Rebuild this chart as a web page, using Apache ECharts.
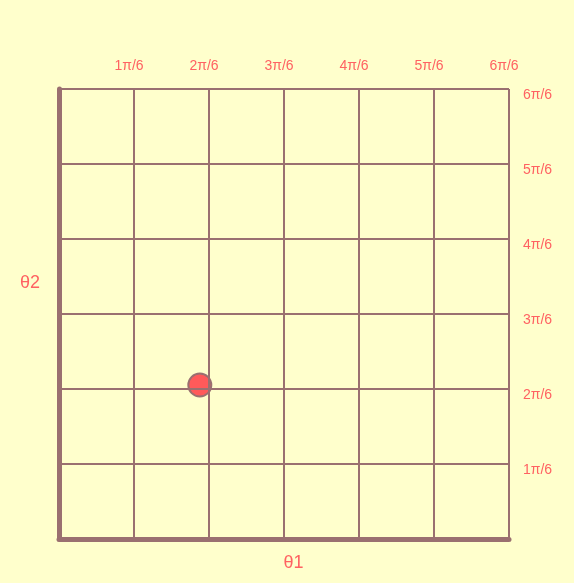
<!DOCTYPE html>
<html>
<head>
<meta charset="utf-8">
<script src="https://cdn.jsdelivr.net/npm/echarts@6/dist/echarts.min.js"></script>
<style>html,body{margin:0;padding:0;background:#ffffcc;}#c{width:574px;height:583px;}</style>
</head>
<body>
<div id="c"></div>
<script>
// Data
var axisNames = ['θ1', 'θ2'];
var tickStep = Math.PI / 6;          // π/6 per tick
var tickCount = 6;                   // 0 .. 6π/6
var pointTheta1 = [0.983];           // θ1 (rad)
var pointTheta2 = [1.075];           // θ2 (rad)

var chart = echarts.init(document.getElementById('c'));
var lineColor = '#9a7070';
var textColor = '#ff6262';
var font = 'Liberation Sans';
function fmt(v) {
  var k = Math.round(v / tickStep);
  return k === 0 ? '' : k + 'π/6';
}
var baseAxis = {
  type: 'value', min: 0, max: tickStep * tickCount, interval: tickStep
};
chart.setOption({
  backgroundColor: '#ffffcc',
  animation: false,
  grid: { left: 59, top: 89, width: 450, height: 450 },
  xAxis: [
    Object.assign({}, baseAxis, {
      position: 'bottom',
      name: axisNames[0], nameLocation: 'middle', nameGap: 15,
      nameTextStyle: { color: textColor, fontSize: 18, padding: [0, 0, 0, 19], fontFamily: font },
      axisLine: { show: true, onZero: false, lineStyle: { color: lineColor, width: 5 } },
      axisTick: { show: false },
      axisLabel: { show: false },
      splitLine: { show: true, lineStyle: { color: lineColor, width: 2 } },
      z: 5
    }),
    Object.assign({}, baseAxis, {
      position: 'top',
      axisLine: { show: false },
      axisTick: { show: false },
      splitLine: { show: false },
      axisLabel: { show: true, color: textColor, fontSize: 14, margin: 16, formatter: fmt,
        showMinLabel: false, padding: [0, 10, 0, 0], fontFamily: font }
    })
  ],
  yAxis: [
    Object.assign({}, baseAxis, {
      position: 'left',
      name: axisNames[1], nameLocation: 'middle', nameGap: 19, nameRotate: 0,
      nameTextStyle: { color: textColor, fontSize: 18, verticalAlign: 'bottom', padding: [0, 0, 22, 0], fontFamily: font },
      axisLine: { show: true, onZero: false, lineStyle: { color: lineColor, width: 5 } },
      axisTick: { show: false },
      axisLabel: { show: false },
      splitLine: { show: true, lineStyle: { color: lineColor, width: 2 } },
      z: 5
    }),
    Object.assign({}, baseAxis, {
      position: 'right',
      axisLine: { show: false },
      axisTick: { show: false },
      splitLine: { show: false },
      axisLabel: { show: true, color: textColor, fontSize: 14, margin: 14, formatter: fmt,
        showMinLabel: false, verticalAlign: 'top', lineHeight: 12, fontFamily: font }
    })
  ],
  series: [{
    type: 'scatter',
    xAxisIndex: 0, yAxisIndex: 0,
    symbolSize: 23,
    itemStyle: { color: '#ff5a5a', borderColor: lineColor, borderWidth: 2, opacity: 1 },
    data: pointTheta1.map(function (x, i) { return [x, pointTheta2[i]]; })
  }]
});
</script>
</body>
</html>
